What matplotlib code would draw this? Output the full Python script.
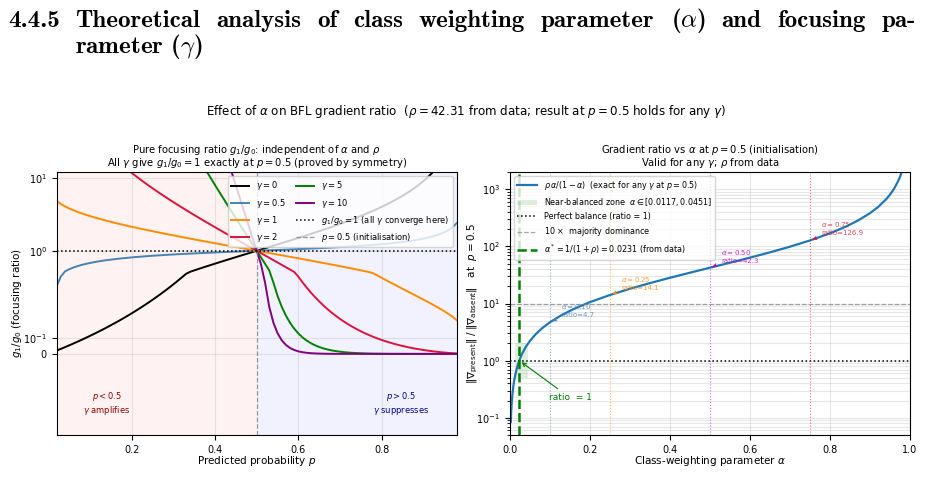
import numpy as np
import matplotlib
matplotlib.use("Agg")
import matplotlib.pyplot as plt

# predicted probability grid (left panel)
p = np.round(np.arange(0.02, 0.9801, 0.01), 2)

gammas = [0, 0.5, 1, 2, 5, 10]
gamma_colors = ["black", "steelblue", "darkorange", "crimson", "green", "purple"]

ratio_g0 = [0.02041, 0.03093, 0.04167, 0.05263, 0.06383, 0.07527, 0.08696, 0.0989, 0.1111, 0.1236, 0.1364, 0.1494,
            0.1628, 0.1765, 0.1905, 0.2048, 0.2195, 0.2346, 0.25, 0.2658, 0.2821, 0.2987, 0.3158, 0.3333,
            0.3514, 0.3699, 0.3889, 0.4085, 0.4286, 0.4493, 0.4706, 0.4925, 0.5152, 0.5385, 0.5625, 0.5873,
            0.6129, 0.6393, 0.6667, 0.6949, 0.7241, 0.7544, 0.7857, 0.8182, 0.8519, 0.8868, 0.9231, 0.9608,
            1, 1.041, 1.083, 1.128, 1.174, 1.222, 1.273, 1.326, 1.381, 1.439, 1.5, 1.564,
            1.632, 1.703, 1.778, 1.857, 1.941, 2.03, 2.125, 2.226, 2.333, 2.448, 2.571, 2.704,
            2.846, 3, 3.167, 3.348, 3.545, 3.762, 4, 4.263, 4.556, 4.882, 5.25, 5.667,
            6.143, 6.692, 7.333, 8.091, 9, 10.11, 11.5, 13.29, 15.67, 19, 24, 32.33,
            49]
ratio_g05 = [0.4181, 0.4769, 0.522, 0.5587, 0.5898, 0.6168, 0.6406, 0.6619, 0.6812, 0.6988, 0.7151, 0.7301,
             0.744, 0.757, 0.7693, 0.7808, 0.7917, 0.802, 0.8118, 0.8211, 0.83, 0.8386, 0.8467, 0.8546,
             0.8622, 0.8695, 0.8766, 0.8834, 0.89, 0.8965, 0.9027, 0.9089, 0.9148, 0.9207, 0.9264, 0.932,
             0.9375, 0.943, 0.9483, 0.9537, 0.9589, 0.9641, 0.9693, 0.9744, 0.9795, 0.9846, 0.9897, 0.9949,
             1, 1.005, 1.01, 1.016, 1.021, 1.026, 1.032, 1.037, 1.043, 1.049, 1.054, 1.06,
             1.067, 1.073, 1.079, 1.086, 1.093, 1.1, 1.108, 1.115, 1.124, 1.132, 1.141, 1.15,
             1.16, 1.17, 1.181, 1.193, 1.205, 1.218, 1.232, 1.247, 1.263, 1.281, 1.3, 1.321,
             1.344, 1.37, 1.399, 1.431, 1.468, 1.511, 1.561, 1.621, 1.696, 1.79, 1.916, 2.097,
             2.392]
ratio_g1 = [4.815, 4.373, 4.053, 3.801, 3.591, 3.412, 3.254, 3.114, 2.988, 2.873, 2.767, 2.669,
            2.577, 2.492, 2.412, 2.337, 2.265, 2.198, 2.133, 2.072, 2.014, 1.958, 1.904, 1.853,
            1.804, 1.757, 1.711, 1.667, 1.625, 1.584, 1.544, 1.506, 1.469, 1.433, 1.398, 1.364,
            1.331, 1.299, 1.268, 1.238, 1.209, 1.18, 1.153, 1.126, 1.099, 1.073, 1.048, 1.024,
            1, 0.9767, 0.9538, 0.9315, 0.9097, 0.8884, 0.8676, 0.8471, 0.8272, 0.8076, 0.7884, 0.7696,
            0.7512, 0.7331, 0.7154, 0.698, 0.6809, 0.6642, 0.6477, 0.6315, 0.6156, 0.5999, 0.5845, 0.5693,
            0.5544, 0.5396, 0.5251, 0.5107, 0.4966, 0.4826, 0.4687, 0.455, 0.4415, 0.428, 0.4146, 0.4013,
            0.388, 0.3747, 0.3615, 0.3481, 0.3347, 0.3211, 0.3073, 0.2931, 0.2785, 0.2631, 0.2467, 0.2287,
            0.2077]
ratio_g2 = [415.6, 244.2, 165, 120.5, 92.39, 73.31, 59.65, 49.47, 41.67, 35.53, 30.61, 26.59,
            23.28, 20.5, 18.16, 16.16, 14.45, 12.96, 11.67, 10.54, 9.541, 8.661, 7.88, 7.184,
            6.562, 6.004, 5.503, 5.05, 4.641, 4.27, 3.934, 3.627, 3.348, 3.092, 2.859, 2.645,
            2.448, 2.268, 2.102, 1.949, 1.808, 1.677, 1.557, 1.446, 1.343, 1.247, 1.158, 1.076,
            1, 0.9291, 0.8632, 0.8019, 0.7449, 0.6917, 0.6423, 0.5962, 0.5532, 0.5132, 0.4758, 0.441,
            0.4085, 0.3781, 0.3498, 0.3234, 0.2987, 0.2757, 0.2542, 0.2342, 0.2155, 0.198, 0.1817, 0.1665,
            0.1524, 0.1392, 0.1269, 0.1155, 0.1048, 0.09491, 0.0857, 0.07716, 0.06922, 0.06187, 0.05507, 0.04877,
            0.04296, 0.0376, 0.03267, 0.02815, 0.024, 0.02021, 0.01677, 0.01364, 0.01082, 0.0083, 0.006059, 0.004095,
            0.002406]
ratio_g5 = [1.077e+08, 1.758e+07, 4.71e+06, 1.657e+06, 6.932e+05, 3.268e+05, 1.682e+05, 9.262e+04, 5.377e+04,
            3.259e+04, 2.047e+04, 1.325e+04,
            8792, 5965, 4125, 2900, 2070, 1496, 1095, 809.3, 604, 454.6, 344.9, 263.5,
            202.6, 156.7, 121.9, 95.23, 74.76, 58.93, 46.63, 37.03, 29.5, 23.57, 18.88, 15.16,
            12.2, 9.841, 7.95, 6.433, 5.213, 4.23, 3.435, 2.793, 2.272, 1.85, 1.506, 1.227,
            1, 0.8148, 0.6638, 0.5406, 0.4401, 0.3581, 0.2911, 0.2364, 0.1918, 0.1554, 0.1258, 0.1016,
            0.08195, 0.06595, 0.05296, 0.04243, 0.0339, 0.027, 0.02144, 0.01697, 0.01338, 0.0105, 0.008206, 0.006382,
            0.004936, 0.003795, 0.0029, 0.0022, 0.001656, 0.001236, 0.0009135, 0.0006682, 0.0004832, 0.0003448,
            0.0002424, 0.0001676,
            0.0001137, 7.55e-05, 4.886e-05, 3.068e-05, 1.86e-05, 1.08e-05, 5.944e-06, 3.06e-06, 1.443e-06,
            6.034e-07, 2.123e-07, 5.689e-08,
            9.289e-09]
ratio_g10 = [5.435e+16, 1.068e+15, 6.226e+13, 6.603e+12, 1.023e+12, 2.062e+11, 5.037e+10, 1.426e+10, 4.533e+09,
             1.583e+09, 5.977e+08, 2.409e+08,
             1.026e+08, 4.583e+07, 2.134e+07, 1.031e+07, 5.138e+06, 2.636e+06, 1.387e+06, 7.464e+05, 4.1e+05,
             2.295e+05, 1.306e+05, 7.546e+04,
             4.421e+04, 2.624e+04, 1.575e+04, 9556, 5854, 3618, 2255, 1416, 894.9, 569.3, 364.2, 234.2,
             151.3, 98.19, 63.96, 41.81, 27.41, 18.02, 11.87, 7.836, 5.182, 3.431, 2.273, 1.508,
             1, 0.6633, 0.4399, 0.2915, 0.193, 0.1276, 0.08424, 0.0555, 0.03649, 0.02392, 0.01563, 0.01018,
             0.006608, 0.00427, 0.002746, 0.001757, 0.001117, 0.0007064, 0.0004435, 0.0002764, 0.0001708,
             0.0001047, 6.349e-05, 3.812e-05,
             2.262e-05, 1.325e-05, 7.657e-06, 4.358e-06, 2.439e-06, 1.34e-06, 7.211e-07, 3.794e-07, 1.946e-07,
             9.703e-08, 4.685e-08, 2.182e-08,
             9.747e-09, 4.152e-09, 1.673e-09, 6.316e-10, 2.206e-10, 7.014e-11, 1.985e-11, 4.85e-12, 9.772e-13,
             1.515e-13, 1.606e-14, 9.365e-16,
             1.84e-17]
ratios = [ratio_g0, ratio_g05, ratio_g1, ratio_g2, ratio_g5, ratio_g10]

# right panel: gradient ratio vs alpha at p = 0.5
alpha = [0.002, 0.003, 0.004, 0.006, 0.008, 0.01, 0.013, 0.016, 0.02, 0.025, 0.03, 0.04, 0.05, 0.065, 0.08, 0.1,
         0.13, 0.16, 0.2, 0.25, 0.3, 0.35, 0.4, 0.45, 0.5, 0.55, 0.6, 0.65, 0.7, 0.75, 0.8, 0.84, 0.87, 0.9,
         0.92, 0.94, 0.95, 0.96, 0.97, 0.975, 0.98]
grad_ratio = [0.08479, 0.1273, 0.1699, 0.2554, 0.3412, 0.4274, 0.5572, 0.688, 0.8635, 1.085, 1.309, 1.763, 2.227,
              2.941, 3.679, 4.701, 6.322, 8.059, 10.58, 14.10, 18.13, 22.78, 28.21, 34.62, 42.31, 51.71, 63.47,
              78.58, 98.72, 126.9, 169.2, 222.1, 283.2, 380.8, 486.6, 662.9, 803.9, 1015, 1368, 1650, 2073]
alpha_star = 0.0231
zone = [0.0117, 0.0451]
marked_alpha = [0.10, 0.25, 0.50, 0.75]
marked_ratio = [4.7, 14.1, 42.3, 126.9]
marked_colors = ["steelblue", "darkorange", "m", "crimson"]

fig = plt.figure(figsize=(9.28, 4.96), dpi=100)
renderer = fig.canvas.get_renderer()

# section heading (line 1 justified like the LaTeX page)
head_kw = dict(fontfamily="cmb10", math_fontfamily="cm", fontsize=18, va="baseline")
fig.text(8 / 928, 1 - 27 / 496, "4.4.5", **head_kw)
words = ["Theoretical", "analysis", "of", "class", "weighting", "parameter", r"($\alpha$)", "and", "focusing", "pa-"]
word_texts = [fig.text(0, 1 - 27 / 496, w, **head_kw) for w in words]
widths = [t.get_window_extent(renderer).width for t in word_texts]
gap = (916 - 75 - sum(widths)) / (len(words) - 1)
x = 75
for t, w in zip(word_texts, widths):
    t.set_x(x / 928)
    x += w + gap
fig.text(75 / 928, 1 - 53 / 496, r"rameter ($\gamma$)", **head_kw)

fig.text(0.502, 1 - 112 / 496,
         r"Effect of $\alpha$ on BFL gradient ratio  ($\rho = 42.31$ from data; result at $p = 0.5$ holds for any $\gamma$)",
         ha="center", va="center", fontsize=8.6)

ax1 = fig.add_axes([56.7 / 928, 1 - 435 / 496, 400 / 928, 263 / 496])
ax2 = fig.add_axes([510 / 928, 1 - 435 / 496, 400 / 928, 263 / 496])

# ---- left panel
ax1.axvspan(0.02, 0.5, color="red", alpha=0.05, lw=0)
ax1.axvspan(0.5, 0.98, color="blue", alpha=0.05, lw=0)
for g, r, c in zip(gammas, ratios, gamma_colors):
    ax1.plot(p, r, color=c, lw=1.4, label=r"$\gamma = %s$" % g)
ax1.axhline(1, color="black", ls=":", lw=1.1, label=r"$g_1/g_0 = 1$ (all $\gamma$ converge here)")
ax1.axvline(0.5, color="grey", ls="--", lw=0.9, alpha=0.8, label=r"$p = 0.5$ (initialisation)")
ax1.set_yscale("symlog", linthresh=0.5, linscale=1)
ax1.set_ylim(-0.5, 12)
ax1.set_xlim(0.02, 0.98)
ax1.set_yticks([0, 0.1, 1, 10], ["0", r"$10^{-1}$", r"$10^{0}$", r"$10^{1}$"])
ax1.yaxis.set_minor_locator(matplotlib.ticker.NullLocator())
ax1.set_xticks([0.2, 0.4, 0.6, 0.8])
ax1.grid(True, alpha=0.3)
ax1.tick_params(labelsize=7)
ax1.set_xlabel(r"Predicted probability $p$", fontsize=7.5)
ax1.set_ylabel(r"$g_1/g_0$ (focusing ratio)", fontsize=7.5)
ax1.xaxis.set_label_coords(0.5, -0.072)
ax1.yaxis.set_label_coords(-0.082, 0.5)
ax1.set_title("Pure focusing ratio $g_1/g_0$: independent of $\\alpha$ and $\\rho$\n"
              "All $\\gamma$ give $g_1/g_0 = 1$ exactly at $p = 0.5$ (proved by symmetry)",
              fontsize=7.2, pad=4, linespacing=0.95)
ax1.text(0.125, 0.12, "$p < 0.5$\n$\\gamma$ amplifies", transform=ax1.transAxes, color="darkred",
         fontsize=6, ha="center", va="center")
ax1.text(0.862, 0.12, "$p > 0.5$\n$\\gamma$ suppresses", transform=ax1.transAxes, color="darkblue",
         fontsize=6, ha="center", va="center")
ax1.legend(loc="upper right", ncol=2, fontsize=6, framealpha=0.8, handlelength=2.2, columnspacing=1.2)

# ---- right panel
ax2.plot(alpha, grad_ratio, color="#1f77b4", lw=1.6,
         label=r"$\rho\,\alpha/(1-\alpha)$  (exact for any $\gamma$ at $p = 0.5$)")
ax2.fill_between(zone, 0.5, 2, color="green", alpha=0.12, lw=0,
                 label=r"Near-balanced zone  $\alpha \in [0.0117, 0.0451]$")
ax2.axhline(1, color="black", ls=":", lw=1.1, label="Perfect balance (ratio = 1)")
ax2.axhline(10, color="grey", ls="--", lw=0.9, alpha=0.7, label=r"10 $\times$  majority dominance")
ax2.axvline(alpha_star, color="green", ls="--", lw=1.8,
            label=r"$\alpha^* = 1/(1+\rho) = 0.0231$ (from data)")
for a, r, c in zip(marked_alpha, marked_ratio, marked_colors):
    ax2.axvline(a, color=c, ls=":", lw=0.8, alpha=0.6)
    ax2.annotate("$\\alpha = %.2f$\nratio=%.1f" % (a, r), xy=(a, r), xytext=(8, 3),
                 textcoords="offset points", fontsize=5, color=c, alpha=0.8, ha="left", va="bottom",
                 arrowprops=dict(arrowstyle="->", color=c, lw=0.8))
ax2.annotate("ratio  = 1", xy=(alpha_star, 1), xytext=(0.15, 0.225), color="green", fontsize=6.5,
             ha="center", va="center", arrowprops=dict(arrowstyle="->", color="green", lw=0.8))
ax2.set_yscale("log")
ax2.set_ylim(0.05, 2000)
ax2.set_xlim(0, 1)
ax2.grid(True, which="both", alpha=0.3)
ax2.tick_params(labelsize=7)
ax2.set_xlabel(r"Class-weighting parameter $\alpha$", fontsize=7.5)
ax2.set_ylabel(r"$\|\nabla_{\rm present}\|\;/\;\|\nabla_{\rm absent}\|$   at  $p = 0.5$", fontsize=7.5)
ax2.xaxis.set_label_coords(0.5, -0.072)
ax2.yaxis.set_label_coords(-0.075, 0.5)
ax2.set_title("Gradient ratio vs $\\alpha$ at $p = 0.5$ (initialisation)\nValid for any $\\gamma$; $\\rho$ from data",
              fontsize=7.2, pad=4, linespacing=0.95)
ax2.legend(loc="upper left", fontsize=5.8, framealpha=0.8, handlelength=2.5)

fig.savefig("out.png", dpi=100)
